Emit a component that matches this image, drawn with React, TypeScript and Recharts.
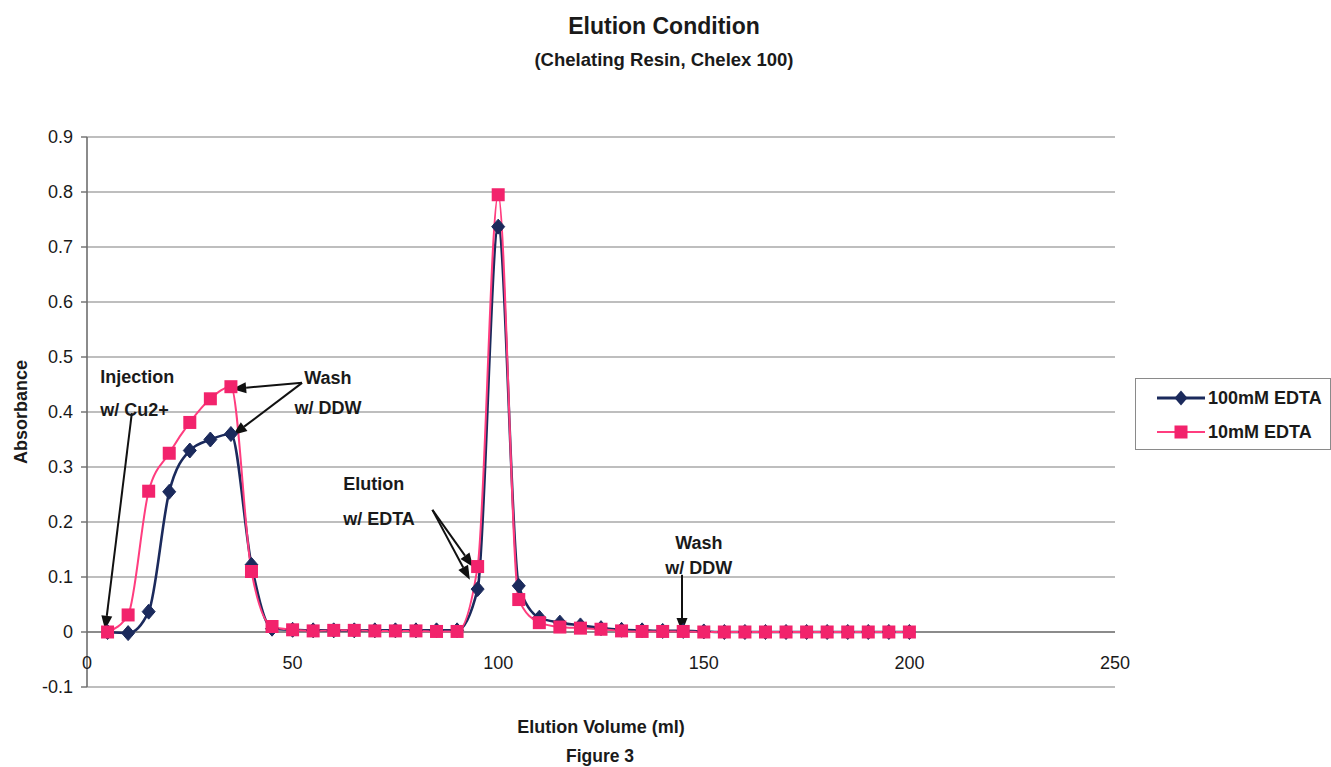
import React from 'react';
import {
  LineChart,
  Line,
  XAxis,
  YAxis,
  CartesianGrid,
  ReferenceLine,
  ReferenceDot,
  Legend,
} from 'recharts';

// ---- data -------------------------------------------------------------
const volumes = [
  5, 10, 15, 20, 25, 30, 35, 40, 45, 50,
  55, 60, 65, 70, 75, 80, 85, 90, 95, 100,
  105, 110, 115, 120, 125, 130, 135, 140, 145, 150,
  155, 160, 165, 170, 175, 180, 185, 190, 195, 200,
];

const edta100mM = [
  0, -0.002, 0.037, 0.255, 0.33, 0.35, 0.36, 0.122, 0.006, 0.004,
  0.003, 0.003, 0.003, 0.003, 0.003, 0.003, 0.003, 0.003, 0.078, 0.737,
  0.084, 0.026, 0.017, 0.012, 0.007, 0.004, 0.003, 0.002, 0.002, 0.001,
  0, 0, 0, 0, 0, 0, 0, 0, 0, 0,
];

const edta10mM = [
  0, 0.031, 0.256, 0.325, 0.381, 0.424, 0.446, 0.11, 0.01, 0.004,
  0.002, 0.003, 0.003, 0.002, 0.002, 0.002, 0.001, 0.001, 0.119, 0.795,
  0.059, 0.017, 0.009, 0.007, 0.005, 0.002, 0.001, 0.001, 0.001, 0,
  0, 0, 0, 0, 0, 0, 0, 0, 0, 0,
];

const xTicks = [0, 50, 100, 150, 200, 250];
const yTicks = [-0.1, 0, 0.1, 0.2, 0.3, 0.4, 0.5, 0.6, 0.7, 0.8, 0.9];

const seriesNames = ['100mM EDTA', '10mM EDTA'];

// annotations (in data units)
const notes = [
  { x: 3.2, y: 0.464, lines: ['Injection', 'w/ Cu2+'], anchor: 'start', gap: 33 },
  { x: 58.6, y: 0.462, lines: ['Wash', 'w/ DDW'], anchor: 'middle', gap: 30 },
  { x: 62.3, y: 0.269, lines: ['Elution', 'w/ EDTA'], anchor: 'start', gap: 35 },
  { x: 148.8, y: 0.162, lines: ['Wash', 'w/ DDW'], anchor: 'middle', gap: 25 },
];

const arrows = [
  { from: [10.9, 0.398], to: [4.4, 0.004] },
  { from: [52.3, 0.453], to: [35.3, 0.442] },
  { from: [52.3, 0.453], to: [35.5, 0.358] },
  { from: [84.0, 0.222], to: [93.9, 0.118] },
  { from: [84.0, 0.222], to: [93.1, 0.095] },
  { from: [144.7, 0.104], to: [144.7, 0.0] },
];

const tableData = volumes.map((v, i) => ({
  volume: v,
  a: edta100mM[i],
  b: edta10mM[i],
}));

// ---- styles -----------------------------------------------------------
const FONT = '"Liberation Sans", Arial, Helvetica, sans-serif';
const NAVY = '#1b2a5c';
const PINK = '#f2236c';
const PINK_LINE = '#ff3d7f';

const Diamond = (props: any) => {
  const { cx, cy, index } = props;
  if (cx == null || cy == null) return <g key={`d${index}`} />;
  return (
    <path
      key={`d${index}`}
      d={`M${cx},${cy - 7.5} L${cx + 6.5},${cy} L${cx},${cy + 7.5} L${cx - 6.5},${cy} Z`}
      fill={NAVY}
      stroke={NAVY}
      strokeWidth={1}
    />
  );
};

const Square = (props: any) => {
  const { cx, cy, index } = props;
  if (cx == null || cy == null) return <g key={`s${index}`} />;
  return (
    <rect key={`s${index}`} x={cx - 6.5} y={cy - 6.5} width={13} height={13} fill={PINK} />
  );
};

const XTick = (props: any) => {
  const { x, y, payload } = props;
  return (
    <text
      x={x}
      y={y - 32}
      textAnchor="middle"
      dominantBaseline="central"
      fontFamily={FONT}
      fontSize={18}
      fill="#1a1a1a"
    >
      {payload.value}
    </text>
  );
};

const ArrowShape = (props: any) => {
  const { x1, y1, x2, y2 } = props;
  if ([x1, y1, x2, y2].some((v) => v == null || isNaN(v))) return <g />;
  const dx = x2 - x1;
  const dy = y2 - y1;
  const len = Math.hypot(dx, dy) || 1;
  const ux = dx / len;
  const uy = dy / len;
  const hl = 14;
  const hw = 5.5;
  const bx = x2 - ux * hl;
  const by = y2 - uy * hl;
  return (
    <g>
      <line x1={x1} y1={y1} x2={bx} y2={by} stroke="#111" strokeWidth={2} />
      <polygon
        points={`${x2},${y2} ${bx - uy * hw},${by + ux * hw} ${bx + uy * hw},${by - ux * hw}`}
        fill="#111"
      />
    </g>
  );
};

const makeNote = (lines: string[], anchor: string, gap: number) => (props: any) => {
  const { cx, cy } = props;
  return (
    <g>
      {lines.map((t, i) => (
        <text
          key={i}
          x={cx}
          y={cy + i * gap}
          textAnchor={anchor as any}
          dominantBaseline="central"
          fontFamily={FONT}
          fontWeight="bold"
          fontSize={18}
          fill="#1a1a1a"
        >
          {t}
        </text>
      ))}
    </g>
  );
};

const LegendContent = (props: any) => {
  const payload = props.payload || [];
  return (
    <div
      style={{
        border: '1.5px solid #8a8a8a',
        background: '#fff',
        width: 196,
        height: 72,
        boxSizing: 'border-box',
        padding: '2px 0 0 20px',
        fontFamily: FONT,
      }}
    >
      {payload.map((entry: any, i: number) => {
        const isA = entry.dataKey === 'a';
        return (
          <div
            key={i}
            style={{ display: 'flex', alignItems: 'center', height: 34 }}
          >
            <svg width={50} height={20} style={{ display: 'block' }}>
              <line
                x1={1}
                y1={10}
                x2={49}
                y2={10}
                stroke={isA ? NAVY : PINK_LINE}
                strokeWidth={isA ? 3 : 2}
              />
              {isA ? (
                <path d="M25,2.5 L31.5,10 L25,17.5 L18.5,10 Z" fill={NAVY} />
              ) : (
                <rect x={18.5} y={3.5} width={13} height={13} fill={PINK} />
              )}
            </svg>
            <span
              style={{
                fontSize: 18,
                fontWeight: 'bold',
                color: '#1a1a1a',
                marginLeft: 2,
                whiteSpace: 'nowrap',
              }}
            >
              {entry.value}
            </span>
          </div>
        );
      })}
    </div>
  );
};

const textStyle = (x: number, y: number, size: number, extra: any = {}) => ({
  position: 'absolute' as const,
  left: x,
  top: y,
  transform: 'translate(-50%, -50%)',
  fontFamily: FONT,
  fontWeight: 'bold' as const,
  fontSize: size,
  lineHeight: 1,
  color: '#1a1a1a',
  whiteSpace: 'nowrap' as const,
  ...extra,
});

export default function App() {
  return (
    <div
      style={{
        position: 'absolute',
        left: 0,
        top: 0,
        width: 1331,
        height: 767,
        background: '#fff',
        overflow: 'hidden',
      }}
    >
      <LineChart
        width={1331}
        height={767}
        data={tableData}
        margin={{ top: 137, right: 216, bottom: 50, left: 27 }}
      >
        <CartesianGrid
          vertical={false}
          horizontal
          stroke="#a9a9a9"
          strokeWidth={1.6}
        />
        <XAxis
          dataKey="volume"
          type="number"
          domain={[0, 250]}
          ticks={xTicks}
          axisLine={false}
          tickLine={false}
          height={30}
          tick={<XTick />}
          interval={0}
        />
        <YAxis
          type="number"
          domain={[-0.1, 0.9]}
          ticks={yTicks}
          width={60}
          interval={0}
          axisLine={{ stroke: '#6e6e6e', strokeWidth: 1.6 }}
          tickLine={{ stroke: '#6e6e6e', strokeWidth: 1.4 }}
          tickSize={6}
          tickMargin={8}
          tick={{ fontFamily: FONT, fontSize: 18, fill: '#1a1a1a' }}
          tickFormatter={(v: number) => String(Math.round(v * 10) / 10)}
        />
        <ReferenceLine y={0} stroke="#7a7a7a" strokeWidth={1.6} />
        <Line
          name={seriesNames[0]}
          dataKey="a"
          type="monotone"
          stroke={NAVY}
          strokeWidth={2.6}
          dot={(p: any) => <Diamond {...p} />}
          activeDot={false}
          isAnimationActive={false}
        />
        <Line
          name={seriesNames[1]}
          dataKey="b"
          type="monotone"
          stroke={PINK_LINE}
          strokeWidth={2}
          dot={(p: any) => <Square {...p} />}
          activeDot={false}
          isAnimationActive={false}
        />
        {arrows.map((a, i) => (
          <ReferenceLine
            key={`ar${i}`}
            segment={[
              { x: a.from[0], y: a.from[1] },
              { x: a.to[0], y: a.to[1] },
            ]}
            ifOverflow="visible"
            shape={(p: any) => <ArrowShape {...p} />}
          />
        ))}
        {notes.map((n, i) => (
          <ReferenceDot
            key={`nt${i}`}
            x={n.x}
            y={n.y}
            r={0}
            ifOverflow="visible"
            shape={makeNote(n.lines, n.anchor, n.gap)}
          />
        ))}
        <Legend
          layout="horizontal"
          align="center"
          verticalAlign="middle"
          wrapperStyle={{ left: 1135, top: 378, width: 196, height: 72 }}
          content={<LegendContent />}
        />
      </LineChart>

      <div style={textStyle(664, 26, 23)}>Elution Condition</div>
      <div style={textStyle(664, 60, 18.5)}>(Chelating Resin, Chelex 100)</div>
      <div style={textStyle(21, 412, 18, { transform: 'translate(-50%, -50%) rotate(-90deg)' })}>
        Absorbance
      </div>
      <div style={textStyle(601, 727, 18)}>Elution Volume (ml)</div>
      <div style={textStyle(600, 757, 17.5)}>Figure 3</div>
    </div>
  );
}
